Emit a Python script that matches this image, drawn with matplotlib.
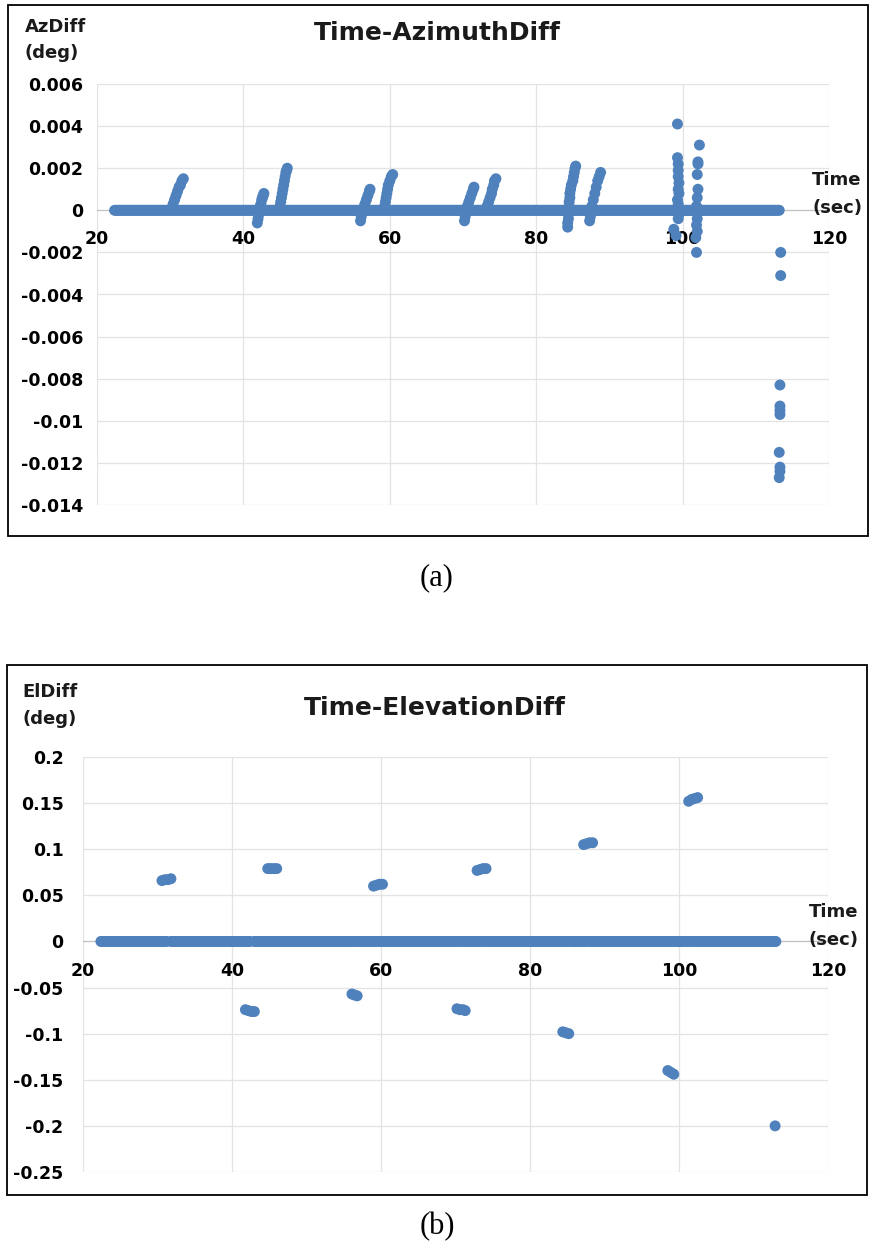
import numpy as np
import matplotlib
matplotlib.use('Agg')
import matplotlib.pyplot as plt
from matplotlib.patches import Rectangle

#%% DATA
# sampling of the zero baseline (sec)
base_start = 22.4
base_end_az = 113.2
base_end_el = 113.0
base_step = 0.2

# Azimuth diff: off-zero samples
az_time = [30.2, 30.4, 30.6, 30.8, 31.0, 31.2, 31.4, 31.6, 31.8,
           41.9, 42.0, 42.1, 42.2, 42.3, 42.4, 42.5, 42.6, 42.7, 42.8,
           45.0, 45.1, 45.2, 45.3, 45.4, 45.5, 45.6, 45.7, 45.8, 45.9, 46.0,
           56.0, 56.1, 56.2, 56.4, 56.6, 56.8, 57.0, 57.2, 57.3,
           59.3, 59.4, 59.5, 59.6, 59.7, 59.8, 60.0, 60.2, 60.4,
           70.2, 70.3, 70.4, 70.6, 70.8, 71.0, 71.2, 71.4, 71.5,
           73.3, 73.5, 73.7, 73.9, 74.0, 74.2, 74.3, 74.5,
           84.3, 84.3, 84.4, 84.4, 84.5, 84.5, 84.6, 84.6, 84.7, 84.8, 85.0, 85.1, 85.2, 85.3, 85.4,
           87.3, 87.4, 87.5, 87.6, 87.8, 88.0, 88.2, 88.4, 88.6, 88.8,
           99.3, 99.3, 99.4, 99.4, 99.4, 99.5, 99.4, 99.5, 99.3, 99.4, 99.5, 99.4, 98.8, 99.1,
           102.3, 102.1, 102.1, 102.0, 102.1, 102.0, 101.9, 102.0, 101.9, 102.0, 101.8, 101.9,
           113.4, 113.4, 113.3, 113.3, 113.3, 113.3, 113.2, 113.3, 113.3, 113.2]
az_value = [0.0001, 0.0003, 0.0005, 0.0007, 0.0009, 0.0011, 0.0012, 0.0014, 0.0015,
            -0.0006, -0.0004, -0.0002, 0.0, 0.0002, 0.0003, 0.0005, 0.0006, 0.0007, 0.0008,
            0.0002, 0.0004, 0.0006, 0.0008, 0.0010, 0.0012, 0.0014, 0.0016, 0.0018, 0.0019, 0.0020,
            -0.0005, -0.0003, -0.0001, 0.0001, 0.0003, 0.0005, 0.0007, 0.0009, 0.0010,
            0.0002, 0.0004, 0.0006, 0.0008, 0.0010, 0.0012, 0.0014, 0.0016, 0.0017,
            -0.0005, -0.0003, -0.0001, 0.0002, 0.0004, 0.0006, 0.0008, 0.0010, 0.0011,
            0.0002, 0.0004, 0.0006, 0.0008, 0.0010, 0.0012, 0.0014, 0.0015,
            -0.0008, -0.0006, -0.0004, -0.0002, 0.0002, 0.0004, 0.0006, 0.0008, 0.0010, 0.0012, 0.0014, 0.0016, 0.0018, 0.0020, 0.0021,
            -0.0005, -0.0003, -0.0001, 0.0002, 0.0005, 0.0008, 0.0011, 0.0014, 0.0016, 0.0018,
            0.0041, 0.0025, 0.0022, 0.0019, 0.0016, 0.0013, 0.0010, 0.0008, 0.0005, 0.0003, -0.0002, -0.0004, -0.0009, -0.0012,
            0.0031, 0.0023, 0.0022, 0.0017, 0.0010, 0.0006, 0.0002, -0.0004, -0.0007, -0.0010, -0.0013, -0.0020,
            -0.0020, -0.0031, -0.0083, -0.0093, -0.0095, -0.0097, -0.0115, -0.0122, -0.0124, -0.0127]

# Elevation diff: off-zero samples
el_time = [30.6, 31.0, 31.4, 31.8,
           44.8, 45.2, 45.6, 46.0,
           59.0, 59.4, 59.8, 60.2,
           72.9, 73.3, 73.7, 74.1,
           87.2, 87.6, 88.0, 88.4,
           101.3, 101.7, 102.1, 102.5,
           41.8, 42.2, 42.6, 43.0,
           56.1, 56.4, 56.8,
           70.2, 70.6, 71.0, 71.3,
           84.4, 84.8, 85.2,
           98.5, 98.9, 99.3,
           112.9]
el_value = [0.066, 0.067, 0.067, 0.068,
            0.079, 0.079, 0.079, 0.079,
            0.060, 0.061, 0.062, 0.062,
            0.077, 0.078, 0.079, 0.079,
            0.105, 0.106, 0.107, 0.107,
            0.152, 0.154, 0.155, 0.156,
            -0.074, -0.075, -0.076, -0.076,
            -0.057, -0.058, -0.059,
            -0.073, -0.074, -0.074, -0.075,
            -0.098, -0.099, -0.100,
            -0.140, -0.142, -0.144,
            -0.200]
# small breaks in the elevation zero line (sec)
el_gaps = [31.5, 42.7, 45.4, 56.6, 59.6, 71.0, 74.0, 85.2, 87.8, 99.0, 102.0]

az_ticks = [0.006, 0.004, 0.002, 0, -0.002, -0.004, -0.006, -0.008, -0.01, -0.012, -0.014]
az_ticklabels = ['0.006', '0.004', '0.002', '0', '-0.002', '-0.004', '-0.006', '-0.008', '-0.01', '-0.012', '-0.014']
el_ticks = [0.2, 0.15, 0.1, 0.05, 0, -0.05, -0.1, -0.15, -0.2, -0.25]
el_ticklabels = ['0.2', '0.15', '0.1', '0.05', '0', '-0.05', '-0.1', '-0.15', '-0.2', '-0.25']
x_ticks = [20, 40, 60, 80, 100, 120]

#%% PLOT
W, H = 874, 1253
fig = plt.figure(figsize=(W / 100, H / 100), dpi=100)
plt.rcParams['font.family'] = ['DejaVu Sans']

dot = '#4f81bd'
grid_c = '#e3e3e3'


def px(x, y):
    return x / W, 1 - y / H


def setup(ax, yticks, yticklabels, ylim, ypad, xpad):
    ax.set_xlim(20, 120)
    ax.set_ylim(*ylim)
    ax.set_xticks(x_ticks)
    ax.set_yticks(yticks)
    ax.set_yticklabels(yticklabels)
    ax.grid(True, color=grid_c, linewidth=0.9)
    ax.set_axisbelow(True)
    for s in ['top', 'right', 'left']:
        ax.spines[s].set_visible(False)
    ax.spines['bottom'].set_position(('data', 0))
    ax.spines['bottom'].set_color('#c0c0c0')
    ax.spines['bottom'].set_zorder(1)
    ax.tick_params(axis='both', length=0, labelsize=12.5)
    ax.tick_params(axis='y', pad=ypad)
    ax.tick_params(axis='x', pad=xpad)
    for lab in ax.get_xticklabels() + ax.get_yticklabels():
        lab.set_fontweight('bold')


# ---- (a) azimuth
axa = fig.add_axes([97 / W, 1 - 505 / H, 732 / W, 421 / H])
t_base = np.arange(base_start, base_end_az + 1e-9, base_step)
axa.scatter(t_base, np.zeros_like(t_base), s=62, color=dot, edgecolors='none', zorder=3)
axa.scatter(az_time, az_value, s=62, color=dot, edgecolors='none', zorder=3)
setup(axa, az_ticks, az_ticklabels, (-0.014, 0.006), 10, 14)

# ---- (b) elevation
axb = fig.add_axes([83 / W, 1 - 1172 / H, 745 / W, 415 / H])
t_base_b = np.arange(base_start, base_end_el + 1e-9, base_step)
keep = np.ones_like(t_base_b, dtype=bool)
for g in el_gaps:
    keep &= np.abs(t_base_b - g) > 0.15
t_base_b = t_base_b[keep]
axb.scatter(t_base_b, np.zeros_like(t_base_b), s=62, color=dot, edgecolors='none', zorder=3)
axb.scatter(el_time, el_value, s=62, color=dot, edgecolors='none', zorder=3)
setup(axb, el_ticks, el_ticklabels, (-0.25, 0.2), 14, 15)

# titles and axis captions
bold = dict(fontweight='bold', color='#1a1a1a')
fig.text(*px(437, 33), 'Time-AzimuthDiff', ha='center', va='center', fontsize=18, **bold)
fig.text(*px(25, 27), 'AzDiff', ha='left', va='center', fontsize=13, **bold)
fig.text(*px(25, 53), '(deg)', ha='left', va='center', fontsize=13, **bold)
fig.text(*px(812, 180), 'Time', ha='left', va='center', fontsize=13, **bold)
fig.text(*px(812, 208), '(sec)', ha='left', va='center', fontsize=13, **bold)

fig.text(*px(435, 708), 'Time-ElevationDiff', ha='center', va='center', fontsize=18, **bold)
fig.text(*px(22, 692), 'ElDiff', ha='left', va='center', fontsize=13, **bold)
fig.text(*px(22, 719), '(deg)', ha='left', va='center', fontsize=13, **bold)
fig.text(*px(809, 912), 'Time', ha='left', va='center', fontsize=13, **bold)
fig.text(*px(809, 940), '(sec)', ha='left', va='center', fontsize=13, **bold)

# panel frames
fig.patches.append(Rectangle(px(8, 536), 860 / W, 531 / H, transform=fig.transFigure,
                             fill=False, edgecolor='black', linewidth=1.3))
fig.patches.append(Rectangle(px(7, 1195), 860 / W, 530 / H, transform=fig.transFigure,
                             fill=False, edgecolor='black', linewidth=1.3))

# sub-figure labels
fig.text(*px(437, 578), '(a)', ha='center', va='center', fontsize=22, family='Liberation Serif')
fig.text(*px(437, 1227), '(b)', ha='center', va='center', fontsize=22, family='Liberation Serif')

plt.savefig('out.png', dpi=100)
